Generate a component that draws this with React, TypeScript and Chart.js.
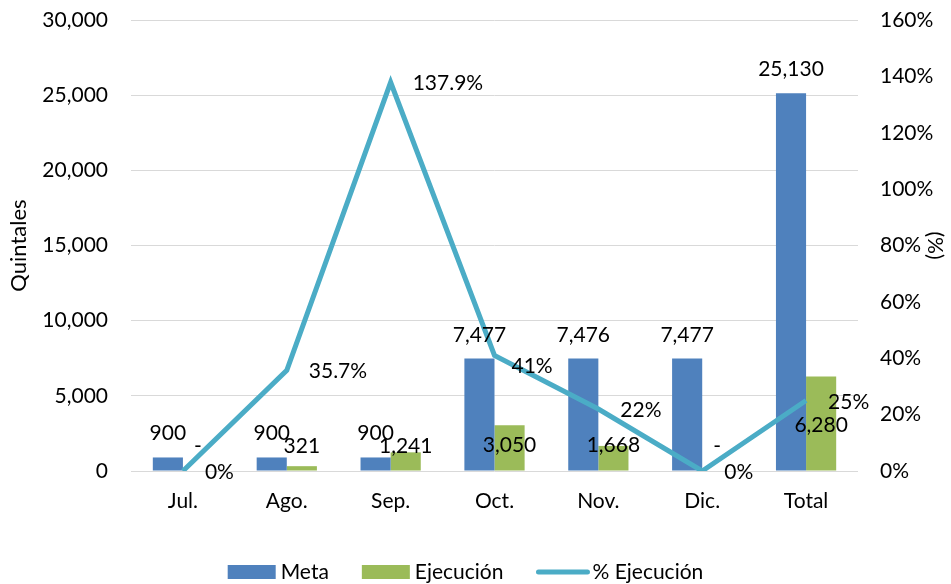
import React, { useEffect, useRef } from "react";
import { Chart, registerables } from "chart.js";

Chart.register(...registerables);

const categories = ["Jul.", "Ago.", "Sep.", "Oct.", "Nov.", "Dic.", "Total"];
const meta = [900, 900, 900, 7477, 7476, 7477, 25130];
const ejecucion = [0, 321, 1241, 3050, 1668, 0, 6280];
const pctEjecucion = [0, 35.7, 137.9, 41, 22, 0, 25];
const pctLabels = ["0%", "35.7%", "137.9%", "41%", "22%", "0%", "25%"];
const leftTickStep = 5000;
const leftMax = 30000;
const rightTickStep = 20;
const rightMax = 160;

const FONT = "Lato";
const FS = 21;
const COLOR_META = "#4F81BD";
const COLOR_EJEC = "#9BBB59";
const COLOR_LINE = "#4BACC6";

const fmt = (v: number) => (v === 0 ? "-" : v.toLocaleString("en-US"));

// label placement tweaks (pixels), mirroring the manual placement in the source chart
const ejecLabelLift = [18, 18, 18, 19, 19, 18, 39];
const pctLabelDx = [22, 22, 22, 17, 22, 22, 22];
const pctLabelDy = [1, 1, 1, 11, 1, 1, 2];

const labelPlugin = {
  id: "labels",
  afterDatasetsDraw(chart: any) {
    const ctx = chart.ctx;
    const y0 = chart.scales.y.getPixelForValue(0);
    ctx.save();
    ctx.font = `${FS}px ${FONT}`;
    ctx.fillStyle = "#000";
    const m0 = chart.getDatasetMeta(0);
    ctx.textAlign = "center";
    ctx.textBaseline = "alphabetic";
    m0.data.forEach((el: any, i: number) => {
      ctx.fillText(fmt(meta[i]), el.x, el.y - 17);
    });
    const m1 = chart.getDatasetMeta(1);
    m1.data.forEach((el: any, i: number) => {
      ctx.fillText(fmt(ejecucion[i]), el.x, y0 - ejecLabelLift[i]);
    });
    const m2 = chart.getDatasetMeta(2);
    ctx.textAlign = "left";
    ctx.textBaseline = "middle";
    m2.data.forEach((el: any, i: number) => {
      ctx.fillText(pctLabels[i], el.x + pctLabelDx[i], el.y + pctLabelDy[i]);
    });
    ctx.restore();
  },
  afterDraw(chart: any) {
    const ctx = chart.ctx;
    ctx.save();
    ctx.font = `${FS}px ${FONT}`;
    ctx.fillStyle = "#000";
    ctx.textBaseline = "middle";
    ctx.textAlign = "left";
    const items = chart.data.datasets.map((d: any) => ({
      label: d.label,
      color: d.type === "line" ? d.borderColor : d.backgroundColor,
      line: d.type === "line",
    }));
    const boxW = 48;
    const lineW = 53;
    const gapText = 5;
    const gapItem = 33;
    const widths = items.map(
      (it: any) => (it.line ? lineW : boxW) + gapText + ctx.measureText(it.label).width
    );
    const total = widths.reduce((a: number, b: number) => a + b, 0) + gapItem * (items.length - 1);
    let x = chart.width / 2 - 9 - total / 2;
    const cy = 572;
    items.forEach((it: any, i: number) => {
      if (it.line) {
        ctx.strokeStyle = it.color;
        ctx.lineWidth = 5;
        ctx.lineCap = "round";
        ctx.beginPath();
        ctx.moveTo(x + 2, cy);
        ctx.lineTo(x + lineW - 2, cy);
        ctx.stroke();
        ctx.fillText(it.label, x + lineW + gapText - 2, cy);
      } else {
        ctx.fillStyle = it.color;
        ctx.fillRect(x, cy - 7, boxW, 14);
        ctx.fillStyle = "#000";
        ctx.fillText(it.label, x + boxW + gapText, cy);
      }
      x += widths[i] + gapItem;
    });
    ctx.restore();
  },
};

export default function App() {
  const ref = useRef<HTMLCanvasElement>(null);
  useEffect(() => {
    if (!ref.current) return;
    Chart.defaults.font.family = FONT;
    const chart = new Chart(ref.current, {
      type: "bar",
      data: {
        labels: categories,
        datasets: [
          {
            type: "bar",
            label: "Meta",
            data: meta,
            backgroundColor: COLOR_META,
            yAxisID: "y",
            order: 1,
            categoryPercentage: 0.58,
            barPercentage: 1,
          },
          {
            type: "bar",
            label: "Ejecución",
            data: ejecucion,
            backgroundColor: COLOR_EJEC,
            yAxisID: "y",
            order: 2,
            categoryPercentage: 0.58,
            barPercentage: 1,
          },
          {
            type: "line",
            label: "% Ejecución",
            data: pctEjecucion,
            borderColor: COLOR_LINE,
            backgroundColor: COLOR_LINE,
            borderWidth: 5,
            pointRadius: 0,
            tension: 0,
            yAxisID: "y1",
            order: 0,
          } as any,
        ],
      },
      options: {
        responsive: false,
        animation: false,
        layout: { padding: { top: 20, left: 0, right: 0, bottom: 0 } },
        plugins: {
          legend: { display: false },
          tooltip: { enabled: false },
        },
        scales: {
          x: {
            grid: { display: false },
            border: { display: false },
            ticks: { color: "#000", font: { size: FS, family: FONT }, padding: 10 },
            afterFit: (s: any) => {
              s.height = 113;
            },
          },
          y: {
            position: "left",
            min: 0,
            max: leftMax,
            ticks: {
              stepSize: leftTickStep,
              color: "#000",
              font: { size: FS, family: FONT },
              padding: 23,
              callback: (v: any) => Number(v).toLocaleString("en-US"),
            },
            grid: { color: "#D9D9D9", lineWidth: 1, drawTicks: false },
            border: { display: false },
            title: {
              display: true,
              text: "Quintales",
              color: "#000",
              font: { size: 22, family: FONT },
              padding: { top: 6, bottom: 4 },
            },
            afterFit: (s: any) => {
              s.width = 131;
              s.paddingTop = 0;
              s.paddingBottom = 0;
            },
          },
          y1: {
            position: "right",
            min: 0,
            max: rightMax,
            ticks: {
              stepSize: rightTickStep,
              color: "#000",
              font: { size: FS, family: FONT },
              padding: 22,
              callback: (v: any) => `${v}%`,
            },
            grid: { display: false, drawTicks: false },
            border: { display: false },
            title: {
              display: true,
              text: "(%)",
              color: "#000",
              font: { size: FS, family: FONT },
              padding: { top: 4, bottom: 3 },
            },
            afterFit: (s: any) => {
              s.width = 93;
              s.paddingTop = 0;
              s.paddingBottom = 0;
            },
          },
        },
      },
      plugins: [labelPlugin],
    } as any);
    return () => chart.destroy();
  }, []);
  return (
    <div style={{ position: "fixed", left: 0, top: 0, width: 951, height: 584, background: "#fff" }}>
      <canvas ref={ref} width={951} height={584} />
    </div>
  );
}
